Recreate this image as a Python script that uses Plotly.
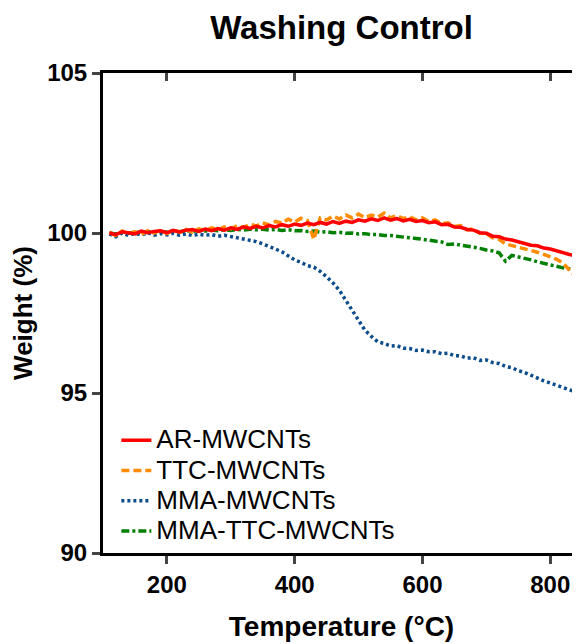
import plotly.graph_objects as go

temperature = [110, 120, 130, 140, 150, 160, 170, 180, 190, 200,
               210, 220, 230, 240, 250, 260, 270, 280, 290, 300,
               310, 320, 330, 340, 350, 360, 370, 380, 390, 400,
               410, 420, 430, 440, 450, 460, 470, 480, 490, 500,
               510, 520, 530, 540, 550, 560, 570, 580, 590, 600,
               610, 620, 630, 640, 650, 660, 670, 680, 690, 700,
               710, 720, 730, 740, 750, 760, 770, 780, 790, 800,
               810, 820, 830, 840, 850]

ar_mwcnts = [100.00, 99.95, 100.04, 100.00, 99.97, 100.06, 100.01, 100.05, 100.07, 100.01,
             100.08, 100.03, 100.09, 100.11, 100.05, 100.12, 100.07, 100.14, 100.09, 100.16,
             100.11, 100.19, 100.14, 100.21, 100.16, 100.23, 100.19, 100.26, 100.21, 100.28,
             100.24, 100.31, 100.26, 100.33, 100.28, 100.36, 100.30, 100.37, 100.33, 100.41,
             100.37, 100.44, 100.39, 100.47, 100.40, 100.45, 100.38, 100.43, 100.36, 100.39,
             100.32, 100.35, 100.26, 100.27, 100.19, 100.18, 100.11, 100.09, 100.01, 99.99,
             99.90, 99.88, 99.81, 99.78, 99.72, 99.68, 99.62, 99.60, 99.53, 99.50,
             99.44, 99.39, 99.33, 99.29, 99.22]

ttc_mwcnts = [100.02, 99.92, 100.06, 99.97, 100.04, 99.95, 100.07, 100.00, 100.09, 99.98,
              100.08, 100.03, 100.11, 100.02, 100.13, 100.07, 100.16, 100.10, 100.19, 100.13,
              100.23, 100.17, 100.27, 100.22, 100.32, 100.25, 100.36, 100.31, 100.43, 100.34,
              100.46, 100.39, 99.80, 100.47, 100.41, 100.53, 100.44, 100.56, 100.47, 100.59,
              100.48, 100.56, 100.50, 100.62, 100.47, 100.54, 100.45, 100.51, 100.41, 100.47,
              100.36, 100.41, 100.29, 100.32, 100.20, 100.23, 100.10, 100.13, 99.99, 99.98,
              99.85, 99.80, 99.66, 99.61, 99.56, 99.50, 99.46, 99.40, 99.33, 99.25,
              99.18, 99.06, 98.82, 98.62, 98.50]

mma_mwcnts = [99.97, 99.88, 100.00, 99.92, 99.99, 99.94, 100.01, 99.93, 99.98, 99.94,
              99.99, 99.93, 99.97, 99.92, 99.96, 99.93, 99.95, 99.90, 99.93, 99.89,
              99.86, 99.83, 99.78, 99.73, 99.66, 99.59, 99.50, 99.41, 99.28, 99.16,
              99.08, 98.98, 98.93, 98.80, 98.63, 98.44, 98.21, 97.90, 97.58, 97.24,
              96.96, 96.77, 96.60, 96.55, 96.47, 96.48, 96.40, 96.39, 96.33, 96.34,
              96.29, 96.29, 96.23, 96.24, 96.17, 96.16, 96.09, 96.10, 96.02, 96.03,
              95.95, 95.92, 95.83, 95.79, 95.70, 95.64, 95.55, 95.47, 95.38, 95.31,
              95.24, 95.17, 95.10, 95.03, 94.96]

mma_ttc_mwcnts = [100.00, 99.97, 100.02, 99.99, 100.03, 100.00, 100.04, 100.02, 100.05, 100.03,
                  100.06, 100.04, 100.07, 100.05, 100.08, 100.06, 100.09, 100.07, 100.10, 100.08,
                  100.11, 100.09, 100.12, 100.10, 100.12, 100.09, 100.11, 100.08, 100.10, 100.07,
                  100.08, 100.05, 100.06, 100.03, 100.04, 100.01, 100.02, 99.99, 100.00, 99.97,
                  99.98, 99.95, 99.95, 99.92, 99.92, 99.89, 99.88, 99.85, 99.83, 99.80,
                  99.77, 99.74, 99.72, 99.64, 99.66, 99.62, 99.59, 99.55, 99.52, 99.47,
                  99.44, 99.38, 99.12, 99.30, 99.26, 99.20, 99.16, 99.10, 99.05, 98.99,
                  98.95, 98.91, 98.88, 98.84, 98.82]

x_ticks = [200, 400, 600, 800]
y_ticks = [90, 95, 100, 105]

FONT = "Liberation Sans, Arial, Helvetica, sans-serif"

series = [
    ("AR-MWCNTs", ar_mwcnts, "#FF0000", "solid"),
    ("TTC-MWCNTs", ttc_mwcnts, "#FF8C00", "8px,4px"),
    ("MMA-MWCNTs", mma_mwcnts, "#0A4C8C", "3px,3px"),
    ("MMA-TTC-MWCNTs", mma_ttc_mwcnts, "#008000", "8px,3px,3px,3px"),
]

fig = go.Figure()
for name, vals, color, dash in reversed(series):
    fig.add_trace(go.Scatter(
        x=temperature, y=vals, name="<span style='font-size:26px'>" + name + "</span>",
        mode="lines", line=dict(color=color, width=3.5, dash=dash),
    ))

xr = [100, 846.6]
yr = [90, 105]

# page body has an 8px default margin, so the figure is sized 572x636
W, H = 572, 636
fig.update_layout(
    width=W, height=H,
    margin=dict(l=95, r=0, t=65, b=91, autoexpand=False),
    paper_bgcolor="white", plot_bgcolor="white",
    font=dict(family=FONT, color="black"),
    title=dict(text="Washing Control", x=0.5, xref="paper",
               y=1 - 19 / H, yref="container", yanchor="middle", automargin=False,
               font=dict(size=33, weight="bold", family=FONT)),
    showlegend=True,
    legend=dict(x=0.028, y=0.277, xanchor="left", yanchor="top",
                traceorder="reversed", bgcolor="rgba(0,0,0,0)",
                font=dict(size=21, family=FONT)),
    xaxis=dict(range=xr, tickvals=x_ticks, ticks="outside", ticklen=8, tickwidth=3,
               showline=True, linewidth=3, linecolor="black", showgrid=False, zeroline=False,
               automargin=False, tickfont=dict(size=24, weight="bold"),
               title=dict(text="Temperature (°C)", font=dict(size=28, weight="bold"), standoff=20)),
    yaxis=dict(range=yr, tickvals=y_ticks, ticks="outside", ticklen=8, tickwidth=3,
               showline=True, linewidth=3, linecolor="black", showgrid=False, zeroline=False,
               automargin=False, tickfont=dict(size=24, weight="bold"),
               title=dict(text="Weight (%)", font=dict(size=26, weight="bold"), standoff=8)),
    xaxis2=dict(range=xr, overlaying="x", side="top", tickvals=x_ticks, ticks="inside",
                ticklen=8, tickwidth=3, showline=True, linewidth=3, linecolor="black",
                automargin=False, showticklabels=False, showgrid=False, zeroline=False),
    yaxis2=dict(range=yr, overlaying="y", side="right", tickvals=y_ticks, ticks="inside",
                ticklen=8, tickwidth=3, showline=False, automargin=False,
                showticklabels=False, showgrid=False, zeroline=False),
)
fig.add_trace(go.Scatter(x=[], y=[], xaxis="x2", yaxis="y2", showlegend=False, hoverinfo="skip"))

fig.write_html("out.html")
